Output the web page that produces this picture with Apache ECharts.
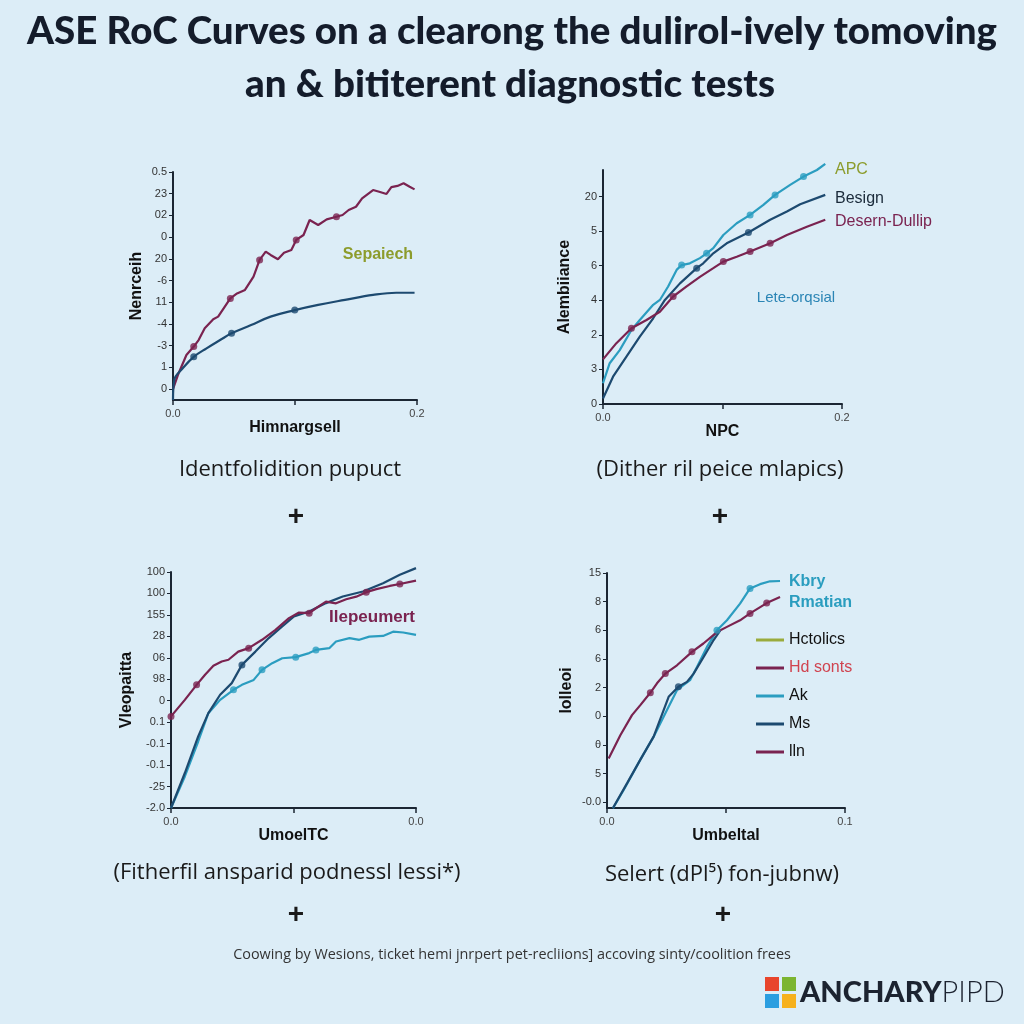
<!DOCTYPE html>
<html><head><meta charset="utf-8">
<script src="https://cdn.jsdelivr.net/npm/echarts@6/dist/echarts.min.js"></script>
<style>html,body{margin:0;padding:0;background:#dcedf7;}#c{width:1024px;height:1024px;}</style>
</head><body><div id="c"></div>
<script>
// ---------- tick labels ----------
const P1_YLABELS = ["0","1","-3","-4","11","-6","20","0","02","23","0.5"];
const P2_YLABELS = ["0","3","2","4","6","5","20"];
const P3_YLABELS = ["-2.0","-25","-0.1","-0.1","0.1","0","98","06","28","155","100","100"];
const P4_YLABELS = ["-0.0","5","θ","0","2","6","6","8","15"];
const P1_XLABELS = ["0.0","0.2"];
const P2_XLABELS = ["0.0","0.2"];
const P3_XLABELS = ["0.0","0.0"];
const P4_XLABELS = ["0.0","0.1"];

// ---------- panel 1 ----------
const p1Red = [[0,0],[0.004,0.65],[0.011,1.57],[0.017,1.96],[0.021,2.26],[0.026,2.80],[0.033,3.22],[0.037,3.34],[0.047,4.18],[0.0525,4.41],[0.059,4.57],[0.066,5.18],[0.071,5.95],[0.076,6.33],[0.080,6.18],[0.086,5.98],[0.091,6.28],[0.097,6.41],[0.101,6.87],[0.107,7.10],[0.112,7.79],[0.119,7.56],[0.126,7.82],[0.134,7.94],[0.139,8.02],[0.144,8.25],[0.150,8.40],[0.155,8.79],[0.164,9.17],[0.169,9.09],[0.175,8.99],[0.179,9.30],[0.184,9.36],[0.189,9.48],[0.194,9.32],[0.198,9.20]];
const p1RedMarks = [3,8,12,18,23];
const p1Navy = [[0,-0.5],[0.001,0.42],[0.008,0.96],[0.017,1.49],[0.0275,1.88],[0.0386,2.26],[0.048,2.57],[0.064,2.95],[0.080,3.34],[0.0998,3.64],[0.119,3.88],[0.141,4.11],[0.164,4.34],[0.183,4.44],[0.198,4.44]];
const p1NavyMarks = [3,6,9];

// ---------- panel 2 ----------
const p2Cyan = [[0,0.60],[0.0056,1.18],[0.014,1.56],[0.0238,2.14],[0.0308,2.43],[0.042,2.87],[0.0476,3.01],[0.0545,3.40],[0.0616,3.88],[0.0658,4.02],[0.0727,4.07],[0.0811,4.22],[0.0867,4.36],[0.0923,4.51],[0.1007,4.89],[0.1119,5.23],[0.1231,5.47],[0.1342,5.76],[0.144,6.05],[0.1566,6.34],[0.1678,6.58],[0.179,6.77],[0.186,6.95]];
const p2CyanMarks = [9,12,16,18,20];
const p2Navy = [[0,0.16],[0.0084,0.79],[0.0196,1.37],[0.0308,1.95],[0.042,2.48],[0.0518,3.01],[0.0644,3.49],[0.0784,3.93],[0.0839,4.07],[0.0923,4.36],[0.1035,4.65],[0.1217,4.96],[0.1399,5.33],[0.1539,5.57],[0.165,5.78],[0.186,6.05]];
const p2NavyMarks = [7,11];
const p2Maroon = [[0,1.29],[0.0112,1.76],[0.0238,2.19],[0.0364,2.43],[0.0476,2.67],[0.0587,3.11],[0.07,3.40],[0.0811,3.68],[0.0923,3.93],[0.1007,4.12],[0.1119,4.26],[0.1231,4.41],[0.1399,4.65],[0.1539,4.89],[0.1706,5.13],[0.186,5.33]];
const p2MaroonMarks = [2,5,9,11,12];

// ---------- panel 3 ----------
const p3Navy = [[0,0],[0.0113,1.63],[0.0222,3.34],[0.0305,4.42],[0.0401,5.28],[0.0496,5.82],[0.0579,6.67],[0.0689,7.29],[0.0798,7.92],[0.0908,8.46],[0.1004,8.93],[0.1128,9.16],[0.1265,9.55],[0.1402,9.86],[0.1567,10.09],[0.1731,10.48],[0.1868,10.87],[0.20,11.18]];
const p3NavyMarks = [6];
const p3Cyan = [[0,0],[0.0113,1.47],[0.0222,3.10],[0.0305,4.42],[0.0401,5.04],[0.051,5.51],[0.0579,5.74],[0.0675,5.97],[0.0743,6.44],[0.0826,6.75],[0.0908,6.98],[0.1018,7.03],[0.1128,7.22],[0.1183,7.37],[0.1292,7.45],[0.1347,7.76],[0.1457,7.92],[0.1537,7.84],[0.1619,7.99],[0.1731,8.02],[0.1813,8.22],[0.1896,8.18],[0.20,8.07]];
const p3CyanMarks = [5,8,11,13];
const p3Maroon = [[0,4.27],[0.0113,5.04],[0.0209,5.74],[0.0278,6.21],[0.0346,6.63],[0.0414,6.83],[0.0469,6.91],[0.0549,7.29],[0.0634,7.45],[0.0743,7.84],[0.0853,8.30],[0.0963,8.85],[0.1045,9.11],[0.1128,9.08],[0.1183,9.31],[0.1265,9.62],[0.1347,9.54],[0.143,9.73],[0.1512,9.85],[0.1594,10.06],[0.1677,10.2],[0.1786,10.35],[0.1868,10.44],[0.20,10.6]];
const p3MaroonMarks = [0,2,8,13,19,22];

// ---------- panel 4 ----------
const p4Maroon = [[0.0007,1.53],[0.0056,2.34],[0.0105,3.04],[0.014,3.39],[0.0182,3.82],[0.021,4.15],[0.0245,4.49],[0.0294,4.78],[0.0357,5.25],[0.0405,5.54],[0.0462,5.94],[0.0504,6.12],[0.0559,6.35],[0.0601,6.59],[0.0671,6.95],[0.0727,7.16]];
const p4MaroonMarks = [4,6,8,13,14];
const p4Cyan = [[0.0025,-0.21],[0.007,0.43],[0.0139,1.47],[0.0196,2.29],[0.0252,3.22],[0.0294,3.91],[0.0321,4.09],[0.0349,4.26],[0.0378,4.72],[0.042,5.42],[0.0462,6.00],[0.0504,6.35],[0.0559,6.93],[0.0601,7.46],[0.0643,7.61],[0.0685,7.71],[0.0727,7.72]];
const p4CyanMarks = [10,13];
const p4Navy = [[0.0025,-0.2],[0.0084,0.66],[0.0139,1.47],[0.0196,2.29],[0.0259,3.68],[0.03,4.03],[0.0336,4.20],[0.0364,4.49],[0.0406,5.07],[0.0448,5.66],[0.0476,6.00]];
const p4NavyMarks = [5];
const LEGEND_NAMES = ["Hctolics","Hd sonts","Ak","Ms","lln"];

// ---------- styling ----------
const MAROON = '#7a2350', NAVY = '#1d4a70', CYAN = '#2b9dc0', OLIVE = '#8c9c2c', AXIS = '#1b2633';
const FONT = 'Liberation Sans, Arial, sans-serif';
const TITLE_FONT = 'Lato, sans-serif';
const CAP_FONT = 'Open Sans, sans-serif';

const grids = [
  {left:173, top:172, width:244, height:228},
  {left:603, top:170, width:239, height:234},
  {left:171, top:572, width:245, height:236},
  {left:607, top:573, width:238, height:235}
];

function yAx(gi, min, max, labels, name, gap) {
  const vals = labels.map((_, i) => i);
  return {type:'value', gridIndex:gi, min, max, splitLine:{show:false},
    axisLine:{show:true, onZero:false, lineStyle:{color:AXIS, width:2}},
    axisTick:{show:true, length:4, customValues:vals, lineStyle:{color:AXIS, width:1}},
    axisLabel:{customValues:vals, formatter:v => labels[Math.round(v)], fontSize:11, color:'#333', margin:6, fontFamily:FONT},
    name, nameLocation:'middle', nameGap:gap, nameRotate:90,
    nameTextStyle:{fontSize:16, fontWeight:'bold', color:'#111', fontFamily:FONT}};
}
function xAx(gi, max, labels, name, gap) {
  return {type:'value', gridIndex:gi, min:0, max, splitLine:{show:false},
    axisLine:{show:true, onZero:false, lineStyle:{color:AXIS, width:2}},
    axisTick:{show:true, length:5, customValues:[0, max/2, max], lineStyle:{color:AXIS, width:1.5}},
    axisLabel:{customValues:[0, max], formatter:v => (v === 0 ? labels[0] : labels[1]), fontSize:11, color:'#444', margin:8, fontFamily:FONT},
    name, nameLocation:'middle', nameGap:gap,
    nameTextStyle:{fontSize:16, fontWeight:'bold', color:'#111', fontFamily:FONT}};
}
function line(name, gi, data, color, smooth) {
  return {name, type:'line', xAxisIndex:gi, yAxisIndex:gi, data, showSymbol:false, clip:false,
    smooth: smooth || false, lineStyle:{color, width:2.2}, itemStyle:{color}, silent:true, z:3};
}
function marks(gi, data, idx, color) {
  return {name:'m'+gi+color, type:'scatter', xAxisIndex:gi, yAxisIndex:gi, data: idx.map(i => data[i]),
    symbolSize:7, itemStyle:{color}, silent:true, clip:false, z:4};
}

const series = [
  line('p1 red', 0, p1Red, MAROON), marks(0, p1Red, p1RedMarks, MAROON),
  line('p1 navy', 0, p1Navy, NAVY, 0.4), marks(0, p1Navy, p1NavyMarks, NAVY),
  line('p2 cyan', 1, p2Cyan, CYAN), marks(1, p2Cyan, p2CyanMarks, CYAN),
  line('p2 navy', 1, p2Navy, NAVY), marks(1, p2Navy, p2NavyMarks, NAVY),
  line('p2 maroon', 1, p2Maroon, MAROON), marks(1, p2Maroon, p2MaroonMarks, MAROON),
  line('p3 cyan', 2, p3Cyan, CYAN), marks(2, p3Cyan, p3CyanMarks, CYAN),
  line('p3 navy', 2, p3Navy, NAVY), marks(2, p3Navy, p3NavyMarks, NAVY),
  line('p3 maroon', 2, p3Maroon, MAROON), marks(2, p3Maroon, p3MaroonMarks, MAROON),
  line(LEGEND_NAMES[2], 3, p4Cyan, CYAN), marks(3, p4Cyan, p4CyanMarks, CYAN),
  line(LEGEND_NAMES[3], 3, p4Navy, NAVY), marks(3, p4Navy, p4NavyMarks, NAVY),
  line(LEGEND_NAMES[1], 3, p4Maroon, MAROON), marks(3, p4Maroon, p4MaroonMarks, MAROON),
  line(LEGEND_NAMES[0], 3, [], '#9aab3c'),
  line(LEGEND_NAMES[4], 3, [], MAROON)
];

function txt(x, y, text, size, color, opts) {
  opts = opts || {};
  return {type:'text', x, y, silent:true, z:10, style:{text, fontSize:size, fill:color,
    fontFamily: opts.family || FONT, fontWeight: opts.weight || 'normal',
    textAlign: opts.align || 'center', textVerticalAlign:'middle'}};
}

const graphic = [
  txt(512, 32, 'ASE RoC Curves on a clearong the dulirol-ively tomoving', 38.5, '#141c2b', {weight:900, family:TITLE_FONT}),
  txt(510, 85, 'an & bititerent diagnostic tests', 38.5, '#141c2b', {weight:900, family:TITLE_FONT}),
  txt(378, 255, 'Sepaiech', 16, OLIVE, {weight:'bold'}),
  txt(835, 170, 'APC', 16, OLIVE, {align:'left'}),
  txt(835, 199, 'Besign', 16, '#1a2a3a', {align:'left'}),
  txt(835, 222, 'Desern-Dullip', 16, MAROON, {align:'left'}),
  txt(796, 298, 'Lete-orqsial', 15, '#2b85b5'),
  txt(372, 617, 'Ilepeumert', 17, MAROON, {weight:'bold'}),
  txt(789, 582, 'Kbry', 16, '#2a9dbf', {align:'left', weight:'bold'}),
  txt(789, 603, 'Rmatian', 16, '#2a9dbf', {align:'left', weight:'bold'}),
  txt(290, 470, 'Identfolidition pupuct', 22, '#1a1a1a', {family:CAP_FONT}),
  txt(720, 470, '(Dither ril peice mlapics)', 22, '#1a1a1a', {family:CAP_FONT}),
  txt(287, 873, '(Fitherfil ansparid podnessl lessi*)', 22, '#1a1a1a', {family:CAP_FONT}),
  txt(722, 875, 'Selert (dPl⁵) fon-jubnw)', 22, '#1a1a1a', {family:CAP_FONT}),
  txt(296, 517, '+', 28, '#1a1a1a', {weight:'bold'}),
  txt(720, 517, '+', 28, '#1a1a1a', {weight:'bold'}),
  txt(296, 915, '+', 28, '#1a1a1a', {weight:'bold'}),
  txt(723, 915, '+', 28, '#1a1a1a', {weight:'bold'}),
  txt(512, 955, 'Coowing by Wesions, ticket hemi jnrpert pet-recliions] accoving sinty/coolition frees', 14.4, '#333', {family:CAP_FONT}),
  {type:'rect', shape:{x:765, y:977, width:14, height:14}, style:{fill:'#e8452c'}, silent:true},
  {type:'rect', shape:{x:782, y:977, width:14, height:14}, style:{fill:'#7cb531'}, silent:true},
  {type:'rect', shape:{x:765, y:994, width:14, height:14}, style:{fill:'#2b9ee0'}, silent:true},
  {type:'rect', shape:{x:782, y:994, width:14, height:14}, style:{fill:'#f6b11c'}, silent:true},
  {type:'text', x:800, y:993, silent:true, style:{
    text:'{a|ANCHARY}{b|PIPD}', textAlign:'left', textVerticalAlign:'middle',
    rich:{a:{fontSize:29, fontWeight:900, fill:'#1c2330', fontFamily:TITLE_FONT},
          b:{fontSize:29, fontWeight:300, fill:'#1c2330', fontFamily:TITLE_FONT}}}}
];

const chart = echarts.init(document.getElementById('c'), null, {renderer:'canvas'});
chart.setOption({
  backgroundColor:'#dcedf7',
  animation:false,
  grid: grids,
  xAxis: [
    xAx(0, 0.2, P1_XLABELS, 'Himnargsell', 17),
    xAx(1, 0.2, P2_XLABELS, 'NPC', 15),
    xAx(2, 0.2, P3_XLABELS, 'UmoelTC', 10),
    xAx(3, 0.1, P4_XLABELS, 'Umbeltal', 12)
  ],
  yAxis: [
    yAx(0, -0.5, 10, P1_YLABELS, 'Nenrceih', 28),
    yAx(1, 0, 6.77, P2_YLABELS, 'Alembiiance', 30),
    yAx(2, 0, 11, P3_YLABELS, 'Vleopaitta', 36),
    yAx(3, -0.2, 8, P4_YLABELS, 'lolleoi', 32)
  ],
  legend: {
    orient:'vertical', left:751, top:627, itemGap:12, itemWidth:28, itemHeight:3, icon:'rect',
    textStyle:{fontSize:16, color:'#111', fontFamily:FONT},
    data: LEGEND_NAMES.map(n => n === 'Hd sonts' ? {name:n, textStyle:{color:'#d04450'}} : {name:n}),
    selectedMode:false
  },
  series,
  graphic
});
</script>
</body></html>
